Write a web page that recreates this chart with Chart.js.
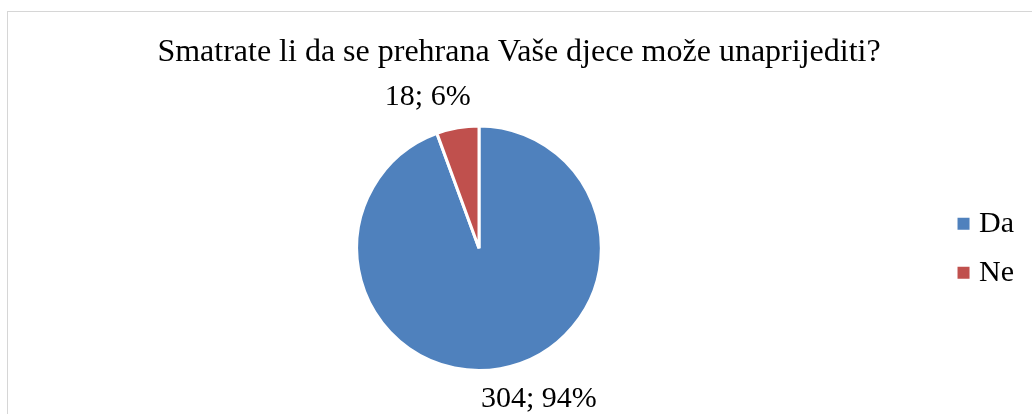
<!DOCTYPE html>
<html>
<head>
<meta charset="utf-8">
<script src="https://cdn.jsdelivr.net/npm/chart.js@4/dist/chart.umd.min.js"></script>
<style>
    body { margin: 0; background: #fff; overflow: hidden; }
    #frame { position: absolute; left: 7px; top: 11px; width: 1100px; height: 500px; border: 1px solid #d6d6d6; }
    #chart { position: absolute; left: 0; top: 0; }
</style>
</head>
<body>
<div id="frame"></div>
<canvas id="chart" width="1032" height="414"></canvas>
<script>
const title = 'Smatrate li da se prehrana Vaše djece može unaprijediti?';
const categories = ['Da', 'Ne'];
const answers = [304, 18];
const colors = ['#4F81BD', '#C0504D'];

const fontFamily = "'Liberation Serif', 'Times New Roman', serif";

// value; percent labels placed outside each slice
const sliceLabels = {
    id: 'sliceLabels',
    afterDatasetsDraw(chart) {
        const ctx = chart.ctx;
        const total = answers.reduce((a, b) => a + b, 0);
        const arcs = chart.getDatasetMeta(0).data;
        ctx.save();
        ctx.font = `30px ${fontFamily}`;
        ctx.fillStyle = '#000';
        ctx.textAlign = 'center';
        ctx.textBaseline = 'middle';
        arcs.forEach((arc, i) => {
            const mid = (arc.startAngle + arc.endAngle) / 2;
            const r = arc.outerRadius + 31;
            const text = `${answers[i]}; ${Math.round(answers[i] / total * 100)}%`;
            const w = ctx.measureText(text).width;
            const cos = Math.cos(mid);
            const x = arc.x + r * cos + Math.sign(cos) * w / 3.5;
            const y = arc.y + r * Math.sin(mid);
            ctx.fillText(text, x, y);
        });
        ctx.restore();
    }
};

const ctx = document.getElementById('chart').getContext('2d');

const myPieChart = new Chart(ctx, {
    type: 'pie',
    data: {
        labels: categories,
        datasets: [{
            data: answers,
            backgroundColor: colors,
            borderColor: '#ffffff',
            borderWidth: 3
        }]
    },
    options: {
        responsive: false,
        animation: false,
        layout: {
            padding: { left: 14, right: 8, top: 0, bottom: 42 }
        },
        plugins: {
            title: {
                display: true,
                text: title,
                color: '#000',
                font: { family: fontFamily, size: 32, weight: 'normal' },
                padding: { top: 33, bottom: 53 }
            },
            legend: {
                position: 'right',
                fullSize: false,
                labels: {
                    usePointStyle: true,
                    pointStyle: 'rect',
                    boxWidth: 1,
                    boxHeight: 15,
                    padding: 19,
                    color: '#000',
                    font: { family: fontFamily, size: 30 }
                }
            },
            tooltip: { enabled: false }
        }
    },
    plugins: [sliceLabels]
});
</script>
</body>
</html>
